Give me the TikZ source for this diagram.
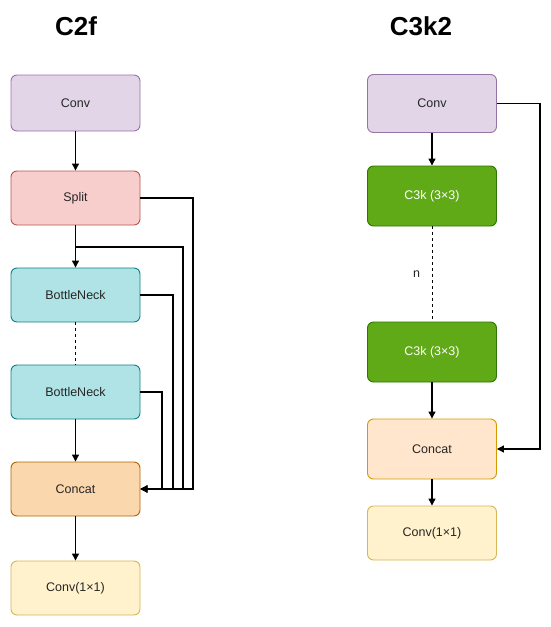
\documentclass[tikz,border=0pt]{standalone}
\usepackage{fontspec}
\setmainfont{Liberation Sans}
\usetikzlibrary{arrows.meta}
\definecolor{convF}{HTML}{E1D5E7}\definecolor{convD}{HTML}{9673A6}
\definecolor{splitF}{HTML}{F8CECC}\definecolor{splitD}{HTML}{B85450}
\definecolor{bnF}{HTML}{B0E3E6}\definecolor{bnD}{HTML}{0E8088}
\definecolor{catF}{HTML}{FAD7AC}\definecolor{catD}{HTML}{B46504}
\definecolor{cat2F}{HTML}{FFE6CC}\definecolor{cat2D}{HTML}{D79B00}
\definecolor{outF}{HTML}{FFF2CC}\definecolor{outD}{HTML}{D6B656}
\definecolor{c3kF}{HTML}{60A917}\definecolor{c3kD}{HTML}{2D7600}
\tikzset{
  blk/.style={rectangle, rounded corners=6pt, minimum width=129pt, minimum height=56pt, line width=0.9pt, font=\fontsize{12.5}{14}\selectfont, text=black!85, inner sep=0pt},
  arr/.style={line width=1.2pt, -{Triangle[length=7pt,width=7pt]}},
  ln/.style={line width=1.2pt},
  dsh/.style={line width=1pt, dashed, dash pattern=on 3pt off 3pt},
  ttl/.style={font=\fontsize{26}{28}\selectfont\bfseries}
}
\begin{document}
\begin{tikzpicture}[x=1pt,y=1pt]
\useasboundingbox (0,0) rectangle (550,-627);
% titles
\node[ttl] (t1) at (76,-26) {C2f};
\node[ttl] (t2) at (421,-26) {C3k2};
% left column
\node[blk, fill=convF, draw=convD] (lconv) at (75.5,-103) {Conv};
\node[blk, fill=splitF, draw=splitD, minimum height=54pt] (split) at (75.5,-198) {Split};
\node[blk, fill=bnF, draw=bnD, minimum height=54pt] (bn1) at (75.5,-295) {BottleNeck};
\node[blk, fill=bnF, draw=bnD, minimum height=54pt] (bn2) at (75.5,-392) {BottleNeck};
\node[blk, fill=catF, draw=catD, minimum height=54pt] (lcat) at (75.5,-489) {Concat};
\node[blk, fill=outF, draw=outD, minimum height=54pt] (lout) at (75.5,-588) {Conv(1×1)};
\draw[arr] (lconv) -- (split);
\draw[arr] (split) -- (bn1);
\draw[dsh] (bn1) -- (bn2);
\draw[arr] (bn2) -- (lcat);
\draw[arr] (lcat) -- (lout);
\coordinate (br) at (75.5,-247);
\draw[arr] (split.east) -| (193,-489) -- (lcat.east);
\draw[arr] (br) -| (183,-489) -- (lcat.east);
\draw[arr] (bn1.east) -| (173,-489) -- (lcat.east);
\draw[arr] (bn2.east) -| (162,-489) -- (lcat.east);
% right column
\node[blk, fill=convF, draw=convD, minimum height=58pt] (rconv) at (432,-103.5) {Conv};
\node[blk, fill=c3kF, draw=c3kD, minimum height=60pt, text=white] (c1) at (432,-196) {C3k (3×3)};
\node[blk, fill=c3kF, draw=c3kD, minimum height=60pt, text=white] (c2) at (432,-352) {C3k (3×3)};
\node[blk, fill=cat2F, draw=cat2D, minimum height=60pt] (rcat) at (432,-449) {Concat};
\node[blk, fill=outF, draw=outD, minimum height=54pt] (rout) at (432,-533) {Conv(1×1)};
\draw[arr] (rconv) -- (c1);
\draw[dsh] (c1) -- node[left=8pt, font=\fontsize{12.5}{14}\selectfont, text=black!85] (nlab) {n} (c2);
\draw[arr] (c2) -- (rcat);
\draw[arr] (rcat) -- (rout);
\draw[arr] (rconv.east) -| (540,-449) -- (rcat.east);
\end{tikzpicture}
\end{document}
